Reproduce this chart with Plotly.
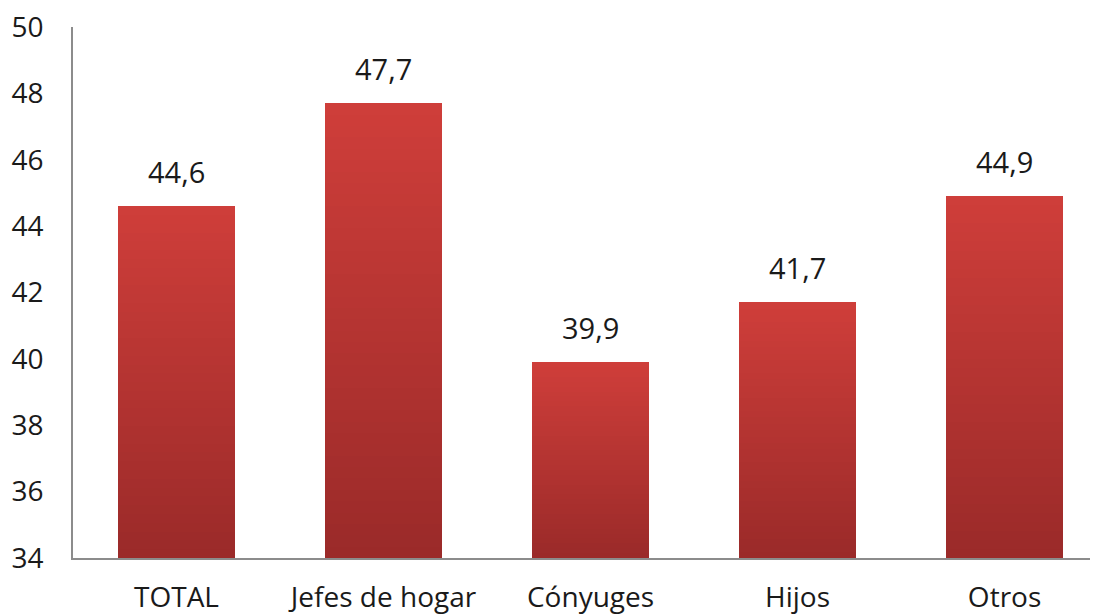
import plotly.graph_objects as go

categories = ["TOTAL", "Jefes de hogar", "Cónyuges", "Hijos", "Otros"]
values = [44.6, 47.7, 39.9, 41.7, 44.9]
y_ticks = [34, 36, 38, 40, 42, 44, 46, 48, 50]

Y_MIN, Y_MAX = 34, 50
N = 40
top_rgb = (207, 62, 58)
bot_rgb = (154, 42, 41)

fig = go.Figure()
for i in range(N):
    t = (i + 0.5) / N
    c = tuple(round(bot_rgb[k] + (top_rgb[k] - bot_rgb[k]) * t) for k in range(3))
    bases = [Y_MIN + (v - Y_MIN) * i / N for v in values]
    heights = [(v - Y_MIN) / N * 1.02 if i < N - 1 else (v - Y_MIN) / N for v in values]
    fig.add_trace(go.Bar(
        x=categories, y=heights, base=bases, width=0.565,
        marker=dict(color="rgb(%d,%d,%d)" % c, line=dict(width=0)),
        showlegend=False, hoverinfo="skip",
    ))

for cat, v in zip(categories, values):
    fig.add_annotation(x=cat, y=v, text=("%.1f" % v).replace(".", ","),
                       showarrow=False, yanchor="bottom", yshift=13,
                       font=dict(size=29, color="#1a1a1a", family="Open Sans"))

fig.update_layout(
    width=1098, height=616,
    margin=dict(l=65, r=0, t=19, b=66),
    paper_bgcolor="white", plot_bgcolor="white",
    barmode="overlay", bargap=0,
    font=dict(family="Open Sans", size=28, color="#1a1a1a"),
)
fig.update_xaxes(
    range=[-0.5, 4.49], showline=True, linecolor="#8c8c8c", linewidth=1.5,
    showgrid=False, ticks="", ticklabelstandoff=14, automargin=False,
    ticklabeloverflow="allow", tickfont=dict(size=28, color="#1a1a1a"),
)
fig.update_yaxes(
    range=[Y_MIN, Y_MAX], tickvals=y_ticks, showline=True, linecolor="#8c8c8c",
    linewidth=1.5, showgrid=False, zeroline=False, ticks="", ticklabelstandoff=22,
    automargin=False, ticklabeloverflow="allow", tickfont=dict(size=28, color="#1a1a1a"),
)

fig.write_html("out.html")
